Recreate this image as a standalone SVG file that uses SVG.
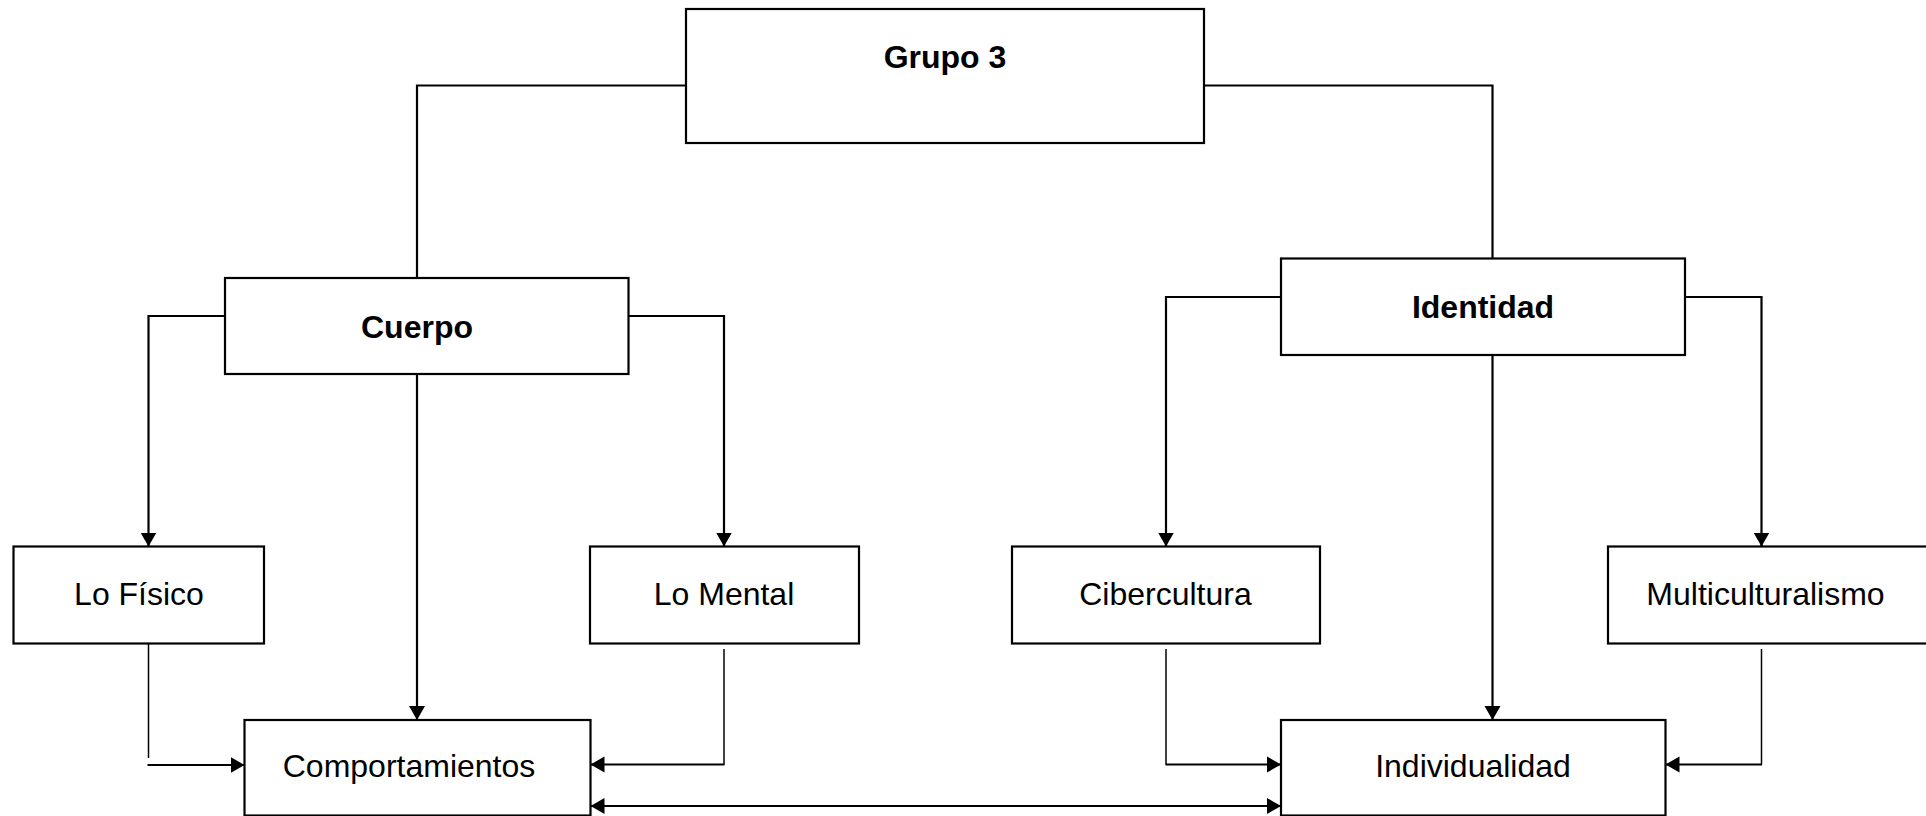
<svg xmlns="http://www.w3.org/2000/svg" width="1926" height="816" viewBox="0 0 1926 816">
  <style>
    .box { fill: #ffffff; stroke: #000000; stroke-width: 2.2; }
    .lbl { font-family: "Liberation Sans", Arial, sans-serif; font-size: 32px; fill: #000000; text-anchor: middle; }
    .bold { font-weight: bold; }
    .wire { fill: none; stroke: #000000; stroke-width: 2.2; }
    .thin { fill: none; stroke: #000000; stroke-width: 1.5; }
    .arrow { marker-end: url(#head); }
    .both { marker-start: url(#tail); marker-end: url(#head); }
  </style>
  <defs>
    <marker id="head" markerUnits="userSpaceOnUse" markerWidth="16" markerHeight="17" refX="14" refY="8.5" orient="auto">
      <path d="M0,0.5 L14,8.5 L0,16.5 Z" fill="#000000"/>
    </marker>
    <marker id="tail" markerUnits="userSpaceOnUse" markerWidth="16" markerHeight="17" refX="0" refY="8.5" orient="auto">
      <path d="M14,0.5 L0,8.5 L14,16.5 Z" fill="#000000"/>
    </marker>
  </defs>

  <rect width="1926" height="816" fill="#ffffff"/>

  <!-- connectors -->
  <g id="connectors">
    <!-- Grupo 3 to the two branches -->
    <path class="wire" d="M686,85.5 H417 V278"/>
    <path class="wire" d="M1204,85.5 H1492.5 V258.5"/>
    <!-- Cuerpo branches -->
    <path class="wire arrow" d="M225,316 H148.5 V546.5"/>
    <path class="wire arrow" d="M628.5,316 H724 V546.5"/>
    <path class="wire arrow" d="M417,374 V720"/>
    <!-- Identidad branches -->
    <path class="wire arrow" d="M1281,297 H1166 V546.5"/>
    <path class="wire arrow" d="M1685,297 H1761.5 V546.5"/>
    <path class="wire arrow" d="M1492.5,355 V720"/>
    <!-- into Comportamientos -->
    <path class="thin" d="M148.5,643.5 V758"/>
    <path class="wire arrow" d="M147.5,765 H244.5"/>
    <path class="thin" d="M724,649 V764.5"/>
    <path class="wire arrow" d="M724.5,764.5 H590.5"/>
    <!-- into Individualidad -->
    <path class="thin" d="M1166,649 V764.5"/>
    <path class="wire arrow" d="M1165.5,764.5 H1281"/>
    <path class="thin" d="M1761.5,649 V764.5"/>
    <path class="wire arrow" d="M1762,764.5 H1665.5"/>
    <!-- Comportamientos to Individualidad -->
    <path class="wire both" d="M590.5,806 H1281"/>
  </g>

  <g id="grupo3">
    <rect class="box" x="686" y="9" width="518" height="134"/>
    <text class="lbl bold" x="945" y="68">Grupo 3</text>
  </g>

  <g id="cuerpo">
    <rect class="box" x="225" y="278" width="403.5" height="96"/>
    <text class="lbl bold" x="417" y="338">Cuerpo</text>
  </g>

  <g id="identidad">
    <rect class="box" x="1281" y="258.5" width="404" height="96.5"/>
    <text class="lbl bold" x="1483" y="318">Identidad</text>
  </g>

  <g id="lo-fisico">
    <rect class="box" x="13.5" y="546.5" width="250.5" height="97"/>
    <text class="lbl" x="139" y="605">Lo Físico</text>
  </g>

  <g id="lo-mental">
    <rect class="box" x="590" y="546.5" width="269" height="97"/>
    <text class="lbl" x="724" y="605">Lo Mental</text>
  </g>

  <g id="cibercultura">
    <rect class="box" x="1012" y="546.5" width="308" height="97"/>
    <text class="lbl" x="1165.5" y="605">Cibercultura</text>
  </g>

  <g id="multiculturalismo">
    <rect class="box" x="1608" y="546.5" width="330" height="97"/>
    <text class="lbl" x="1765.5" y="605">Multiculturalismo</text>
  </g>

  <g id="comportamientos">
    <rect class="box" x="244.5" y="720" width="346" height="95.5"/>
    <text class="lbl" x="409" y="777">Comportamientos</text>
  </g>

  <g id="individualidad">
    <rect class="box" x="1281" y="720" width="384.5" height="95.5"/>
    <text class="lbl" x="1473" y="777">Individualidad</text>
  </g>
</svg>
